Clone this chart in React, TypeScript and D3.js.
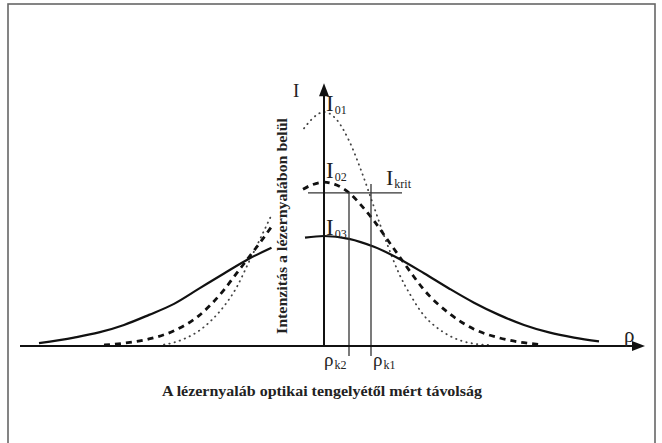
import React, { useEffect, useRef } from "react";
import * as d3 from "d3";

const svgWidth = 662, svgHeight = 443;

// relative intensity levels
const peakLabels = ["01", "02", "03"];
const peakValues = [1.0, 0.7, 0.47];
const iKrit = 0.654;
const rhoK1 = 0.94;
const rhoK2 = 0.5;

// dotted curve (I01), left part and right part (gap where the y label sits)
const dottedLeftRho = [-3.2, -3.0, -2.75, -2.5, -2.25, -2.0, -1.75, -1.5, -1.25, -1.05];
const dottedLeftI = [0.006, 0.015, 0.035, 0.065, 0.11, 0.17, 0.25, 0.36, 0.47, 0.56];
const dottedRightRho = [-0.4, -0.25, 0, 0.25, 0.5, 0.75, 1, 1.25, 1.5, 1.75, 2, 2.25, 2.5, 2.75, 3, 3.3];
const dottedRightI = [0.93, 0.968, 1, 0.968, 0.878, 0.746, 0.594, 0.443, 0.31, 0.21, 0.13, 0.08, 0.045, 0.022, 0.01, 0.004];

// dashed curve (I02)
const dashedLeftRho = [-4.4, -4, -3.5, -3, -2.5, -2, -1.75, -1.5, -1.25, -1.05];
const dashedLeftI = [0.004, 0.012, 0.03, 0.065, 0.13, 0.24, 0.31, 0.38, 0.45, 0.51];
const dashedRightRho = [-0.42, -0.25, 0, 0.25, 0.5, 0.75, 1, 1.25, 1.5, 1.75, 2, 2.5, 3, 3.5, 4, 4.35];
const dashedRightI = [0.67, 0.688, 0.7, 0.688, 0.655, 0.6, 0.535, 0.46, 0.385, 0.31, 0.24, 0.14, 0.072, 0.035, 0.014, 0.006];

// solid curve (I03)
const solidLeftRho = [-5.7, -5, -4.5, -4, -3.5, -3, -2.5, -2, -1.5, -1.05];
const solidLeftI = [0.012, 0.036, 0.058, 0.09, 0.133, 0.18, 0.245, 0.31, 0.373, 0.42];
const solidRightRho = [-0.38, 0, 0.5, 1, 1.5, 2, 2.5, 3, 3.5, 4, 4.5, 5, 5.5];
const solidRightI = [0.463, 0.47, 0.458, 0.424, 0.373, 0.311, 0.246, 0.185, 0.133, 0.09, 0.058, 0.036, 0.02];

const yLabel = "Intenzitás a lézernyalábon belül";
const xLabel = "A lézernyaláb optikai tengelyétől mért távolság";

const App = () => {
    const ref = useRef<SVGSVGElement>(null);

    useEffect(() => {
        const svg = d3.select(ref.current);
        svg.selectAll("*").remove();

        const xScale = d3.scaleLinear().domain([-6, 6]).range([24, 624]);
        const yScale = d3.scaleLinear().domain([0, 1]).range([346, 112]);

        // frame
        svg.append("rect")
            .attr("x", 8).attr("y", 4)
            .attr("width", 647).attr("height", 450)
            .attr("fill", "none").attr("stroke", "#666").attr("stroke-width", 1.6);

        const line = d3.line<[number, number]>()
            .x(d => xScale(d[0]))
            .y(d => yScale(d[1]))
            .curve(d3.curveMonotoneX);

        const zip = (a: number[], b: number[]) => a.map((v, i) => [v, b[i]] as [number, number]);

        const curves = [
            { data: zip(dottedLeftRho, dottedLeftI), style: "dot" },
            { data: zip(dottedRightRho, dottedRightI), style: "dot" },
            { data: zip(dashedLeftRho, dashedLeftI), style: "dash" },
            { data: zip(dashedRightRho, dashedRightI), style: "dash" },
            { data: zip(solidLeftRho, solidLeftI), style: "solid" },
            { data: zip(solidRightRho, solidRightI), style: "solid" },
        ];

        svg.selectAll("path.curve")
            .data(curves)
            .enter()
            .append("path")
            .attr("class", "curve")
            .attr("d", d => line(d.data))
            .attr("fill", "none")
            .attr("stroke", d => d.style === "dot" ? "#444" : "#111")
            .attr("stroke-width", d => d.style === "dot" ? 1.8 : d.style === "dash" ? 2.8 : 2.2)
            .attr("stroke-dasharray", d => d.style === "dot" ? "0.4 5" : d.style === "dash" ? "6 5" : null)
            .attr("stroke-linecap", d => d.style === "dot" ? "round" : "butt");

        // I krit line and rho_k verticals
        svg.append("line")
            .attr("x1", xScale(-0.32)).attr("x2", xScale(1.56))
            .attr("y1", yScale(iKrit)).attr("y2", yScale(iKrit))
            .attr("stroke", "#333").attr("stroke-width", 1.3);
        [rhoK2, rhoK1].forEach((r, i) => {
            svg.append("line")
                .attr("x1", xScale(r)).attr("x2", xScale(r))
                .attr("y1", yScale(iKrit) - (i === 0 ? 1 : 9)).attr("y2", 356)
                .attr("stroke", "#333").attr("stroke-width", 1.3);
        });

        // axes
        const x0 = xScale(0), y0 = yScale(0);
        svg.append("line")
            .attr("x1", xScale(-6.08)).attr("x2", xScale(6.3))
            .attr("y1", y0).attr("y2", y0)
            .attr("stroke", "#111").attr("stroke-width", 1.8);
        svg.append("path")
            .attr("d", `M${xScale(6.42)},${y0} L${xScale(6.42) - 13},${y0 - 5} L${xScale(6.42) - 13},${y0 + 5} Z`)
            .attr("fill", "#111");
        svg.append("line")
            .attr("x1", x0).attr("x2", x0)
            .attr("y1", y0).attr("y2", yScale(1.08))
            .attr("stroke", "#111").attr("stroke-width", 2);
        svg.append("path")
            .attr("d", `M${x0},${yScale(1.123)} L${x0 - 5},${yScale(1.123) + 13} L${x0 + 5},${yScale(1.123) + 13} Z`)
            .attr("fill", "#111");

        // axis letters
        svg.append("text")
            .attr("x", 293).attr("y", 97)
            .attr("font-size", 19).attr("fill", "#222")
            .text("I");
        svg.append("text")
            .attr("x", 624).attr("y", 342)
            .attr("font-size", 21).attr("fill", "#222")
            .text("ρ");

        // peak labels
        const subLabel = (x: number, y: number, main: string, sub: string, size: number) => {
            const t = svg.append("text")
                .attr("x", x).attr("y", y)
                .attr("fill", "#222");
            t.append("tspan").attr("font-size", size).text(main);
            t.append("tspan").attr("font-size", 12).attr("dy", 3).attr("dx", 1).text(sub);
        };
        const peakLabelY = [111, 178, 235];
        peakValues.forEach((v, i) => {
            subLabel(x0 + 2, peakLabelY[i], "I", peakLabels[i], 23);
        });
        subLabel(386, yScale(iKrit) - 8, "I", "krit", 22);
        subLabel(xScale(rhoK2) - 25, 366, "ρ", "k2", 19);
        subLabel(xScale(rhoK1) + 2, 366, "ρ", "k1", 19);

        // axis titles
        svg.append("text")
            .attr("transform", "translate(287,226) rotate(-90)")
            .attr("text-anchor", "middle")
            .attr("font-weight", "bold").attr("font-size", 14)
            .attr("textLength", 216).attr("lengthAdjust", "spacingAndGlyphs")
            .attr("fill", "#222")
            .text(yLabel);
        svg.append("text")
            .attr("x", 322).attr("y", 396)
            .attr("text-anchor", "middle")
            .attr("font-weight", "bold").attr("font-size", 14)
            .attr("textLength", 320).attr("lengthAdjust", "spacingAndGlyphs")
            .attr("fill", "#222")
            .text(xLabel);
    }, []);

    return (
        <svg ref={ref} width={svgWidth} height={svgHeight} fontFamily="Liberation Serif"
             style={{ position: "absolute", left: 0, top: 0, background: "#fff" }} />
    );
};

export default App;
